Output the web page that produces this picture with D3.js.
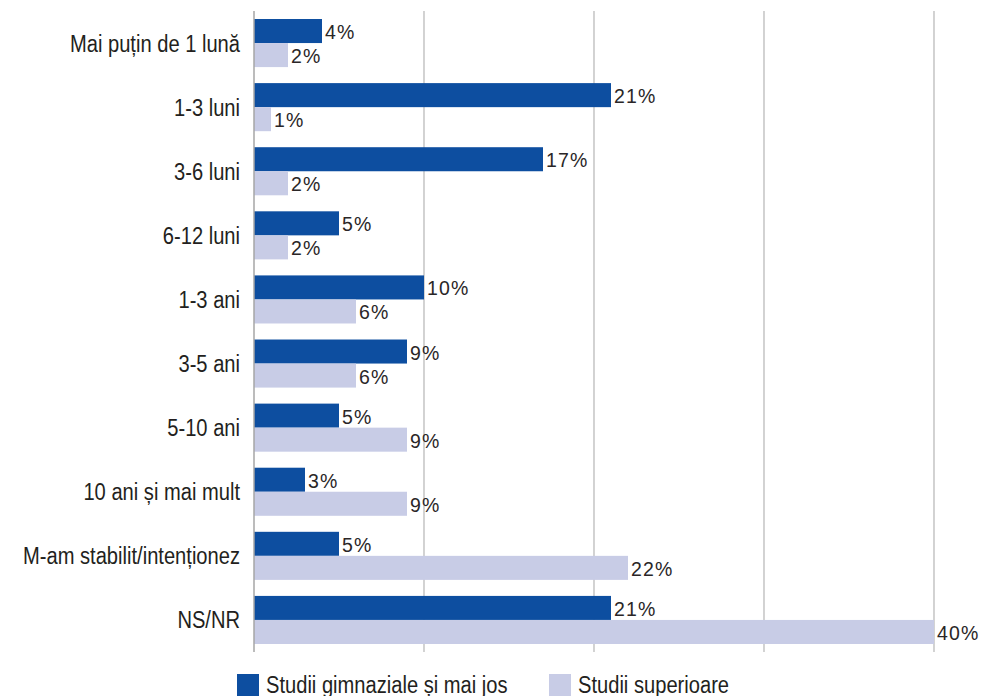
<!DOCTYPE html>
<html>
<head>
<meta charset="utf-8">
<script src="https://cdn.jsdelivr.net/npm/d3@7"></script>
<style>
  html, body { margin: 0; padding: 0; background: #fff; }
  svg { display: block; }
  .cat { font-family: "Liberation Sans", Arial, sans-serif; font-size: 23px; fill: #231f20; }
  .val { font-family: "Liberation Sans", Arial, sans-serif; font-size: 19.5px; fill: #2a2627; letter-spacing: 1.2px; }
</style>
</head>
<body>
<svg id="chart" width="983" height="696"></svg>
<script>
// Duration categories, top to bottom
const categories = [
  "Mai puțin de 1 lună",
  "1-3 luni",
  "3-6 luni",
  "6-12 luni",
  "1-3 ani",
  "3-5 ani",
  "5-10 ani",
  "10 ani și mai mult",
  "M-am stabilit/intenționez",
  "NS/NR"
];
const seriesNames = ["Studii gimnaziale și mai jos", "Studii superioare"];
const gimnaziale = [4, 21, 17, 5, 10, 9, 5, 3, 5, 21];
const superioare = [2, 1, 2, 2, 6, 6, 9, 9, 22, 40];
const xTicks = [0, 10, 20, 30, 40];
const colors = ["#0d4ea0", "#c8cce6"];

const svg = d3.select("#chart");
const plotLeft = 254, plotRight = 934, plotTop = 11, plotBottom = 652;
const narrow = 0.875; // horizontal squeeze for the condensed label face

const x = d3.scaleLinear().domain([0, 40]).range([plotLeft, plotRight]);
const y = d3.scaleBand().domain(categories).range([plotTop, plotBottom])
  .paddingInner(0.25).paddingOuter(0.125);
const ySub = d3.scaleBand().domain([0, 1]).range([0, y.bandwidth()]);

// vertical gridlines
svg.append("g").selectAll("line").data(xTicks.slice(1)).join("line")
  .attr("x1", d => x(d)).attr("x2", d => x(d))
  .attr("y1", plotTop).attr("y2", plotBottom)
  .attr("stroke", "#b5b5b5").attr("stroke-width", 1.2);

const series = [gimnaziale, superioare];
series.forEach((vals, s) => {
  const g = svg.append("g");
  g.selectAll("rect").data(vals).join("rect")
    .attr("x", x(0))
    .attr("y", (d, i) => y(categories[i]) + ySub(s))
    .attr("width", d => x(d) - x(0))
    .attr("height", ySub.bandwidth())
    .attr("fill", colors[s]);
  g.selectAll("text").data(vals).join("text")
    .attr("class", "val")
    .attr("x", d => x(d) + 3)
    .attr("y", (d, i) => y(categories[i]) + ySub(s) + ySub.bandwidth() / 2 + 8)
    .text(d => d + "%");
});

// category axis line
svg.append("line")
  .attr("x1", x(0)).attr("x2", x(0))
  .attr("y1", plotTop).attr("y2", plotBottom)
  .attr("stroke", "#a6a6a6").attr("stroke-width", 1.5);

svg.append("g").selectAll("text").data(categories).join("text")
  .attr("class", "cat")
  .attr("transform", d => `translate(240,${y(d) + y.bandwidth() / 2 + 8.5}) scale(${narrow},1)`)
  .attr("text-anchor", "end")
  .text(d => d);

// legend
const legendX = [237, 549];
const lg = svg.append("g");
seriesNames.forEach((name, i) => {
  lg.append("rect").attr("x", legendX[i]).attr("y", 674)
    .attr("width", 22).attr("height", 22).attr("fill", colors[i]);
  lg.append("text").attr("class", "cat")
    .attr("transform", `translate(${legendX[i] + 29},693) scale(${narrow},1)`)
    .text(name);
});
</script>
</body>
</html>
